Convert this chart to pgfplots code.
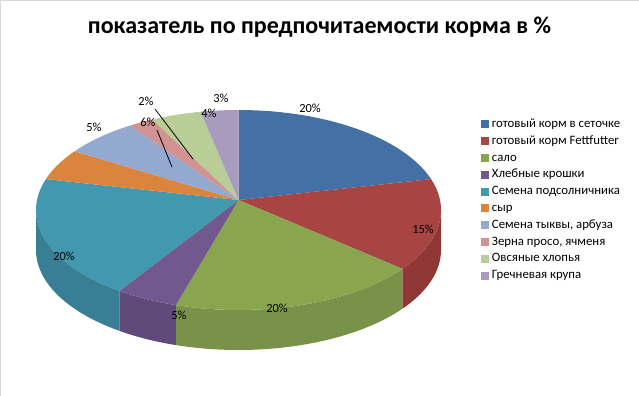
\documentclass[border=0pt]{standalone}
\usepackage{fontspec}
\setmainfont{Carlito}
\usepackage{pgfplots}
\pgfplotsset{compat=1.18}
\definecolor{c1}{HTML}{4470A6}
\definecolor{c2}{HTML}{A84441}
\definecolor{c3}{HTML}{89A54E}
\definecolor{c4}{HTML}{71588F}
\definecolor{c5}{HTML}{4198AF}
\definecolor{c6}{HTML}{DB843D}
\definecolor{c7}{HTML}{93A9CF}
\definecolor{c8}{HTML}{D19392}
\definecolor{c9}{HTML}{B9CD96}
\definecolor{c10}{HTML}{A99BBD}
\definecolor{s2}{HTML}{8E3734}
\definecolor{s3}{HTML}{78924A}
\definecolor{s4}{HTML}{5F4A7A}
\definecolor{s5}{HTML}{387F93}
\def\cx{238.5}
\def\cy{210}
\def\rx{202.5}
\def\ry{100}
\def\ax{238.5}
\def\ay{200}
\def\dep{40}
% top face of a slice: colour, percent before it, its percent
\newcommand{\topslice}[3]{%
  \addplot[fill=#1, draw=none, samples at={0,...,41}, variable=\t]
  ({(\t<=40) ? (\cx+\rx*cos(90-3.6*(#2+#3*\t/40))) : \ax},
   {(\t<=40) ? (\cy-\ry*sin(90-3.6*(#2+#3*\t/40))) : \ay});
}
% visible side of a slice: colour, from percent, to percent
\newcommand{\sideface}[3]{%
  \addplot[fill=#1, draw=none, samples at={0,...,81}, variable=\t, forget plot]
  ({(\t<=40) ? (\cx+\rx*cos(90-3.6*(#2+(#3-#2)*\t/40))) : (\cx+\rx*cos(90-3.6*(#3-(#3-#2)*(\t-41)/40)))},
   {(\t<=40) ? (\cy-\ry*sin(90-3.6*(#2+(#3-#2)*\t/40))) : (\cy-\ry*sin(90-3.6*(#3-(#3-#2)*(\t-41)/40))+\dep)});
}
\begin{document}
\begin{tikzpicture}
\begin{axis}[
  scale only axis, width=479.25pt, height=297pt,
  xmin=0, xmax=639, ymin=0, ymax=396, y dir=reverse,
  axis lines=box, axis line style={draw=none},
  xtick=\empty, ytick=\empty,
  /pgf/number format/assume math mode=true,
  title={показатель по предпочитаемости корма в \%},
  title style={at={(0.5,0.91)}, anchor=center, font=\fontsize{18}{21}\selectfont\bfseries},
  legend image code/.code={\fill[#1] (0pt,-3pt) rectangle (6pt,3pt);},
  legend cell align=left,
  legend style={at={(axis cs:481,117)}, anchor=north west, draw=none, fill=none,
    inner sep=0pt, row sep=2pt,
    font=\fontsize{9.6}{11}\selectfont,
    nodes={text height=6.6pt, text depth=2pt, inner ysep=1pt, inner xsep=2pt}},
]
\addplot[gray!30, line width=1.2pt, forget plot] coordinates {(0.6,396) (0.6,0.6) (639,0.6)};
% sides (front half, percent 25..75)
\sideface{s2}{25}{35}
\sideface{s3}{35}{55}
\sideface{s4}{55}{60}
\sideface{s5}{60}{75}
% top faces
\topslice{c1}{0}{20}  \addlegendentry{готовый корм в сеточке}
\topslice{c2}{20}{15} \addlegendentry{готовый корм Fettfutter}
\topslice{c3}{35}{20} \addlegendentry{сало}
\topslice{c4}{55}{5}  \addlegendentry{Хлебные крошки}
\topslice{c5}{60}{20} \addlegendentry{Семена подсолничника}
\topslice{c6}{80}{5}  \addlegendentry{сыр}
\topslice{c7}{85}{6}  \addlegendentry{Семена тыквы, арбуза}
\topslice{c8}{91}{2}  \addlegendentry{Зерна просо, ячменя}
\topslice{c9}{93}{4}  \addlegendentry{Овсяные хлопья}
\topslice{c10}{97}{3} \addlegendentry{Гречневая крупа}
% leader lines
\addplot[black, line width=0.6pt, forget plot] coordinates {(155,109) (193,159)};
\addplot[black, line width=0.6pt, forget plot] coordinates {(157,130) (172,167)};
% data labels
\addplot[draw=none, mark=none, forget plot, point meta=explicit,
  nodes near coords={\pgfmathprintnumber{\pgfplotspointmeta}\%},
  every node near coord/.append style={anchor=center, inner sep=0pt, font=\fontsize{9.3}{11}\selectfont}]
  table[meta=v] {
x y v
310 108 20
423 229 15
277 308 20
179 315 5
64 256 20
94 127 5
148 122 6
146 101 2
209 113 4
221 98 3
};
\end{axis}
\end{tikzpicture}
\end{document}
